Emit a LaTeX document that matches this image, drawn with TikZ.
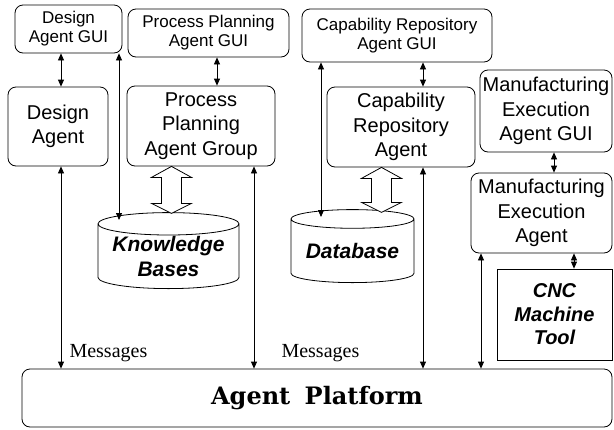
\documentclass[tikz,border=0pt]{standalone}
\usepackage{fontspec}
\setmainfont{Liberation Sans}
\newfontfamily\msgfont{Liberation Serif}
\newfontfamily\platfont{DejaVu Serif}
\usetikzlibrary{shapes.geometric,arrows.meta}

\tikzset{
	agent/.style={draw, rounded corners=8pt, line width=0.8pt, align=center, inner sep=0pt, font=\fontsize{20}{24.5}\selectfont},
	gui/.style={agent, font=\fontsize{17}{19}\selectfont},
	store/.style={draw, cylinder, shape border rotate=90, aspect=0.2, line width=0.8pt, align=center, inner sep=0pt, anchor=south, font=\fontsize{21}{25}\selectfont\bfseries\itshape},
	link/.style={{Triangle[length=7pt,width=6pt]}-{Triangle[length=7pt,width=6pt]}, line width=0.8pt},
	msg/.style={anchor=base west, font=\msgfont\fontsize{20}{24}\selectfont}
}

\begin{document}
\begin{tikzpicture}[x=1pt, y=-1pt]
			\useasboundingbox (0,0) rectangle (614,429);
			% agents and their GUIs
			\node[gui, minimum width=107, minimum height=48] (dagui) at (68.5,29) {Design\\Agent GUI};
			\node[gui, minimum width=161, minimum height=48] (ppgui) at (208.5,33) {Process Planning\\Agent GUI};
			\node[gui, minimum width=190, minimum height=53] (crgui) at (397,35.5) {Capability Repository\\Agent GUI};
			\node[agent, minimum width=100, minimum height=79] (da) at (58,126.5) {Design\\Agent};
			\node[agent, minimum width=148, minimum height=80] (ppag) at (201,126) {Process\\Planning\\Agent Group};
			\node[agent, minimum width=148, minimum height=80] (cra) at (401,127) {Capability\\Repository\\Agent};
			\node[agent, minimum width=132, minimum height=82] (megui) at (546,111) {Manufacturing\\Execution\\Agent GUI};
			\node[agent, minimum width=141, minimum height=80] (mea) at (541.5,213) {Manufacturing\\Execution\\Agent};
			\node[draw, line width=0.8pt, align=center, inner sep=0pt, minimum width=115, minimum height=91, font=\fontsize{20}{23.5}\selectfont\bfseries\itshape] (cnc) at (554.5,314.5) {CNC\\Machine\\Tool};
			\node[store, minimum width=141, minimum height=76] (kb) at (168.5,289) {Knowledge\\Bases};
			\node[store, minimum width=123, minimum height=73] (db) at (352.5,283) {Database};
			\node[agent, minimum width=590, minimum height=58, font=\platfont\bfseries\fontsize{24}{28}\selectfont] (ap) at (317,398) {Agent\hspace{0.6em}Platform};
			\node[msg] (msga) at (66,357) {Messages};
			\node[msg] (msgb) at (278,357) {Messages};
			% x positions of the links
			\coordinate (c1) at (61,0);
			\coordinate (c2) at (217,0);
			\coordinate (c3) at (423,0);
			\coordinate (c4) at (554,0);
			\coordinate (c5) at (574,0);
			\coordinate (c6) at (254,0);
			\coordinate (c7) at (481,0);
			\coordinate (kbend) at (119,220);
			\coordinate (dbend) at (321,217);
			\draw[link] (dagui.south -| c1) -- (da.north -| c1);
			\draw[link] (ppgui.south -| c2) -- (ppag.north -| c2);
			\draw[link] (crgui.south -| c3) -- (cra.north -| c3);
			\draw[link] (megui.south -| c4) -- (mea.north -| c4);
			\draw[link] (mea.south -| c5) -- (cnc.north -| c5);
			\draw[link] (da.south -| c1) -- (ap.north -| c1);
			\draw[link] (ppag.south -| c6) -- (ap.north -| c6);
			\draw[link] (cra.south -| c3) -- (ap.north -| c3);
			\draw[link] (mea.south -| c7) -- (ap.north -| c7);
			\draw[link] (dagui.south -| kbend) -- (kbend);
			\draw[link] (crgui.south -| dbend) -- (dbend);
			% hollow double arrows to the stores
			\coordinate (b1) at (171.5,0);
			\coordinate (b2) at (381.5,0);
			\draw[line width=0.8pt, fill=white] (ppag.south -| b1) -- ++(20,11) -- ++(-10,0) -- ++(0,26) -- ++(10,0) -- ++(-20,10) -- ++(-20,-10) -- ++(10,0) -- ++(0,-26) -- ++(-10,0) -- cycle;
			\draw[line width=0.8pt, fill=white] (cra.south -| b2) -- ++(20,11) -- ++(-10,0) -- ++(0,24) -- ++(10,0) -- ++(-20,10) -- ++(-20,-10) -- ++(10,0) -- ++(0,-24) -- ++(-10,0) -- cycle;
\end{tikzpicture}
\end{document}
